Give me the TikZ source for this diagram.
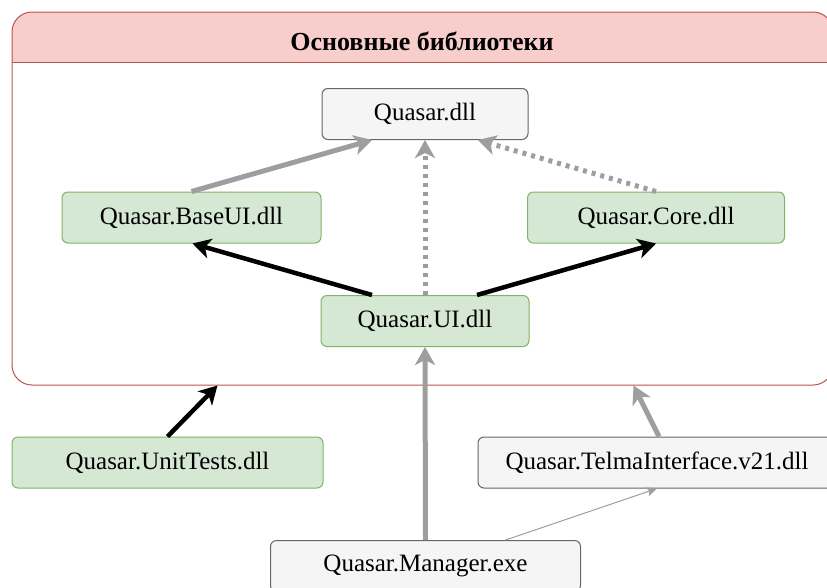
\documentclass[tikz,border=0pt]{standalone}
\usepackage{fontspec}
\setmainfont{Liberation Serif}
\usetikzlibrary{arrows.meta,positioning}
\definecolor{libfill}{HTML}{D5E8D4}
\definecolor{libline}{HTML}{82B366}
\definecolor{extfill}{HTML}{F5F5F5}
\definecolor{extline}{HTML}{666666}
\definecolor{hdrfill}{HTML}{F8CECC}
\definecolor{hdrline}{HTML}{B85450}
\definecolor{deparrow}{HTML}{9E9E9E}
\tikzset{
  box/.style={rounded corners=6pt, minimum height=51pt, inner sep=0pt, line width=1pt,
    font=\fontsize{25}{30}\selectfont},
  lib/.style={box, draw=libline, fill=libfill},
  ext/.style={box, draw=extline, fill=extfill},
  uses/.style={line width=5pt, deparrow, -{Stealth[length=18pt,width=20pt,inset=5pt]}},
  weak/.style={uses, dash pattern=on 4pt off 5pt},
  own/.style={line width=4.5pt, black, -{Stealth[length=18pt,width=20pt,inset=5pt]}},
  thinuse/.style={line width=1pt, deparrow, -{Stealth[length=10pt,width=9pt,inset=2pt]}}
}
\begin{document}
\begin{tikzpicture}[x=1pt,y=-1pt]
\useasboundingbox (0,0) rectangle (827,587);
\clip (0,0) rectangle (827,587);

\begin{scope}
\clip (0,0) rectangle (840,62);
\fill[hdrfill, rounded corners=20pt] (12,12) rectangle (833,110);
\end{scope}
\node[draw=hdrline, line width=1pt, rounded corners=20pt, minimum width=821pt,
  minimum height=373pt, inner sep=0pt] (libs) at (422.5,198.5) {};
\draw[hdrline, line width=1pt] (12,62) -- (833,62);
\node[font=\bfseries\fontsize{26}{30}\selectfont] (title) at (422,41) {Основные библиотеки};

\node[ext, minimum width=206pt] (dll) at (425,114) {Quasar.dll};
\node[lib, minimum width=259pt] (baseui) at (191.5,217.5) {Quasar.BaseUI.dll};
\node[lib, minimum width=257pt] (core) at (656,217.5) {Quasar.Core.dll};
\node[lib, minimum width=208pt] (ui) at (425,321) {Quasar.UI.dll};
\node[lib, minimum width=311pt] (tests) at (167.5,462.5) {Quasar.UnitTests.dll};
\node[ext, minimum width=358pt] (telma) at (657,462.5) {Quasar.TelmaInterface.v21.dll};
\node[ext, minimum width=310pt] (manager) at (425.5,566) {Quasar.Manager.exe};

\draw[uses] (baseui.north) -- ([xshift=-53pt]dll.south);
\draw[weak] (ui.north) -- (dll.south);
\draw[weak] (core.north) -- ([xshift=53pt]dll.south);
\draw[own] ([xshift=-53pt]ui.north) -- ([xshift=1pt]baseui.south);
\draw[own] ([xshift=52pt]ui.north) -- (core.south);
\draw[own] (tests.north) -- ([xshift=-205pt]libs.south);
\draw[uses] (manager.north) -- (ui.south);
\draw[uses] ([xshift=2pt]telma.north) -- ([xshift=211pt]libs.south);
\draw[thinuse] ([xshift=80pt]manager.north) -- (telma.south);
\end{tikzpicture}
\end{document}
